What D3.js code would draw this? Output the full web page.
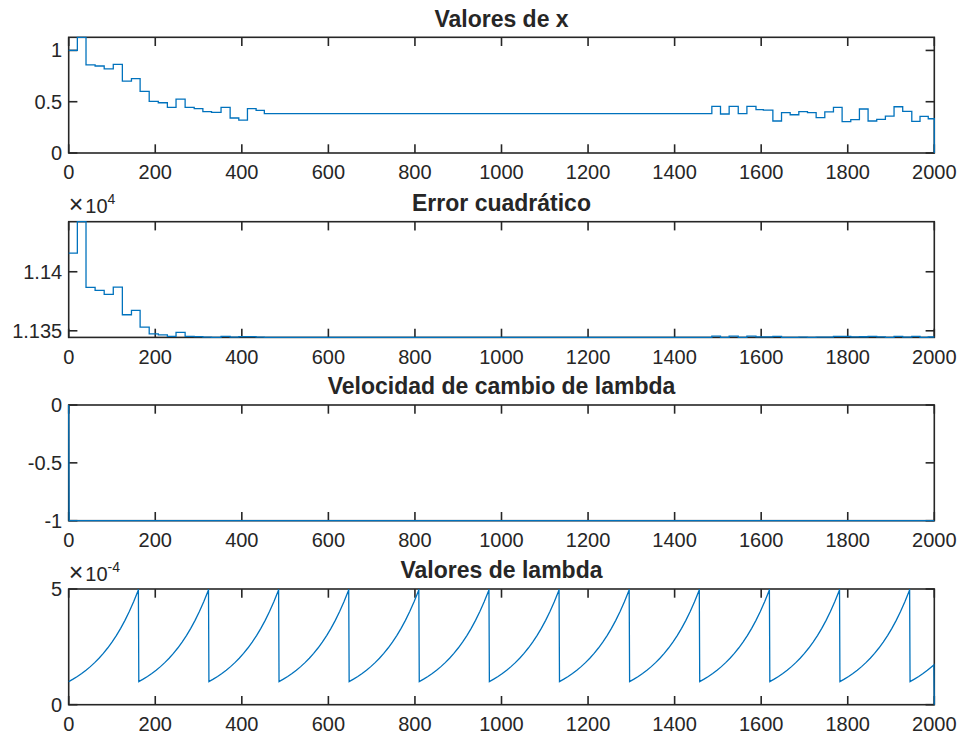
<!DOCTYPE html>
<html><head><meta charset="utf-8">
<script src="https://cdn.jsdelivr.net/npm/d3@7"></script>
<style>
body{margin:0;background:#fff}
svg{display:block}
text{font-family:"Liberation Sans",Arial,Helvetica,sans-serif;fill:#262626}
</style>
</head><body>
<svg id="c" width="962" height="735"></svg>
<script>
// ---------------- data ----------------
const xTicks = [0,200,400,600,800,1000,1200,1400,1600,1800,2000];
const titles = ["Valores de x", "Error cuadrático", "Velocidad de cambio de lambda", "Valores de lambda"];

// step starts (iteration) and held values of x and squared error
const stepStarts = [0,20,40,61,82,103,124,145,165,186,207,228,248,269,290,310,330,352,373,393,413,433,452,
  1486,1506,1526,1547,1567,1588,1605,1627,1647,1667,1687,1707,1727,1747,1767,1787,1807,1827,1847,1867,1887,1907,1927,1948,1967,1986,2000];
const xValues = [1.0,1.128,0.86,0.848,0.82,0.864,0.70,0.725,0.60,0.503,0.49,0.445,0.526,0.445,0.432,0.403,0.397,0.445,0.341,0.32,0.432,0.416,0.383,
  0.455,0.38,0.455,0.383,0.455,0.422,0.418,0.312,0.393,0.373,0.403,0.393,0.344,0.40,0.445,0.305,0.325,0.429,0.312,0.328,0.36,0.451,0.406,0.309,0.358,0.334,0];
const errValues = [11415.8,11442.4,11386.8,11384.2,11380.8,11387.0,11363.6,11367.3,11353.1,11347.4,11346.6,11345.2,11348.6,11345.3,11345.0,11344.6,11344.5,11345.2,11344.7,11345.0,11345.0,11344.7,11344.45,
  11345.4,11344.45,11345.4,11344.45,11345.4,11344.85,11344.8,11345.2,11344.45,11344.4,11344.55,11344.45,11344.65,11344.55,11345.2,11345.3,11344.9,11344.95,11345.2,11344.85,11344.5,11345.3,11344.6,11345.25,11344.5,11344.75,11344.75];

// rate of change of lambda
const velIter = [0,1,2000];
const velValues = [0,-1,-1];

// lambda: reset positions and shape of one growth cycle (offset from reset)
const lambdaResets = [0,162,324,486,648,810,972,1134,1296,1458,1620,1782,1944];
const lambdaOffsets = [0,10,20,30,40,50,60,70,80,90,100,110,120,130,140,150,160,161];
const lambdaProfile = [1.000e-4,1.105e-4,1.220e-4,1.348e-4,1.489e-4,1.645e-4,1.817e-4,2.007e-4,2.217e-4,2.449e-4,2.705e-4,2.988e-4,3.300e-4,3.646e-4,4.027e-4,4.448e-4,4.914e-4,4.99e-4];
const lambdaTailIter = [1999,2000];
const lambdaTailValues = [1.72e-4,0];

// y axis ticks
const yTicks = [[0,0.5,1],[11350,11400],[-1,-0.5,0],[0,5e-4]];
const yTickLabels = [["0","0.5","1"],["1.135","1.14"],["-1","-0.5","0"],["0","5"]];
const yDomains = [[0,1.128],[11344.4,11442.4],[-1,0],[0,5e-4]];
const exponents = [null,"4",null,"-4"];

// ---------------- layout ----------------
const svg = d3.select("#c");
svg.append("rect").attr("width",962).attr("height",735).attr("fill","#fff");
const L = 68.7, R = 934.3, H = 115.7;
const tops = [37.3, 221.7, 405, 589];
const tickLen = 8.7;
const axisColor = "#262626";
const lineColor = "#0072BD";

const x = d3.scaleLinear().domain([0,2000]).range([L,R]);

// series
const stepSeries = (vals) => stepStarts.map((s,i)=>[s, vals[i]]);
const lambdaPts = [];
lambdaResets.forEach((s,i)=>{
  const next = i < lambdaResets.length-1 ? lambdaResets[i+1] : lambdaTailIter[0];
  lambdaOffsets.forEach((o,j)=>{ if (s+o < next) lambdaPts.push([s+o, lambdaProfile[j]]); });
});
lambdaTailIter.forEach((t,i)=>lambdaPts.push([t, lambdaTailValues[i]]));

const series = [
  {pts: stepSeries(xValues), curve: d3.curveStepAfter},
  {pts: stepSeries(errValues), curve: d3.curveStepAfter},
  {pts: velIter.map((t,i)=>[t, velValues[i]]), curve: d3.curveLinear},
  {pts: lambdaPts, curve: d3.curveLinear}
];

tops.forEach((top,k)=>{
  const bottom = top + H;
  const y = d3.scaleLinear().domain(yDomains[k]).range([bottom, top]);
  const g = svg.append("g");

  const cid = "clip"+k;
  svg.append("clipPath").attr("id",cid).append("rect")
    .attr("x",L-1).attr("y",top-1).attr("width",R-L+2).attr("height",H+2);

  g.append("rect").attr("x",L).attr("y",top).attr("width",R-L).attr("height",H)
    .attr("fill","none").attr("stroke",axisColor).attr("stroke-width",1.6);

  xTicks.forEach(t=>{
    const px = x(t);
    g.append("line").attr("x1",px).attr("x2",px).attr("y1",bottom).attr("y2",bottom-tickLen)
      .attr("stroke",axisColor).attr("stroke-width",1.6);
    g.append("line").attr("x1",px).attr("x2",px).attr("y1",top).attr("y2",top+tickLen)
      .attr("stroke",axisColor).attr("stroke-width",1.6);
    g.append("text").attr("x",px).attr("y",bottom+26.3).attr("text-anchor","middle")
      .attr("font-size",20).text(String(t));
  });

  yTicks[k].forEach((t,i)=>{
    const py = y(t);
    g.append("line").attr("x1",L).attr("x2",L+tickLen).attr("y1",py).attr("y2",py)
      .attr("stroke",axisColor).attr("stroke-width",1.6);
    g.append("line").attr("x1",R).attr("x2",R-tickLen).attr("y1",py).attr("y2",py)
      .attr("stroke",axisColor).attr("stroke-width",1.6);
    g.append("text").attr("x",L-6.5).attr("y",py+7).attr("text-anchor","end")
      .attr("font-size",20).text(yTickLabels[k][i]);
  });

  g.append("text").attr("x",(L+R)/2).attr("y",top-10.8).attr("text-anchor","middle")
    .attr("font-size",23).attr("font-weight","bold").text(titles[k]);

  if (exponents[k]) {
    const t = g.append("text").attr("x",L).attr("y",top-8.5).attr("font-size",20);
    t.append("tspan").attr("font-size",25).attr("font-weight",300).text("\u00D7");
    t.append("tspan").attr("dx",2).text("10");
    t.append("tspan").attr("dy",-9).attr("font-size",14).text(exponents[k]);
  }

  const line = d3.line().x(d=>x(d[0])).y(d=>y(d[1])).curve(series[k].curve);
  svg.append("path").attr("clip-path",`url(#${cid})`).attr("d",line(series[k].pts))
    .attr("fill","none").attr("stroke",lineColor).attr("stroke-width",1.3)
    .attr("stroke-linejoin","miter");
});
</script>
</body></html>
